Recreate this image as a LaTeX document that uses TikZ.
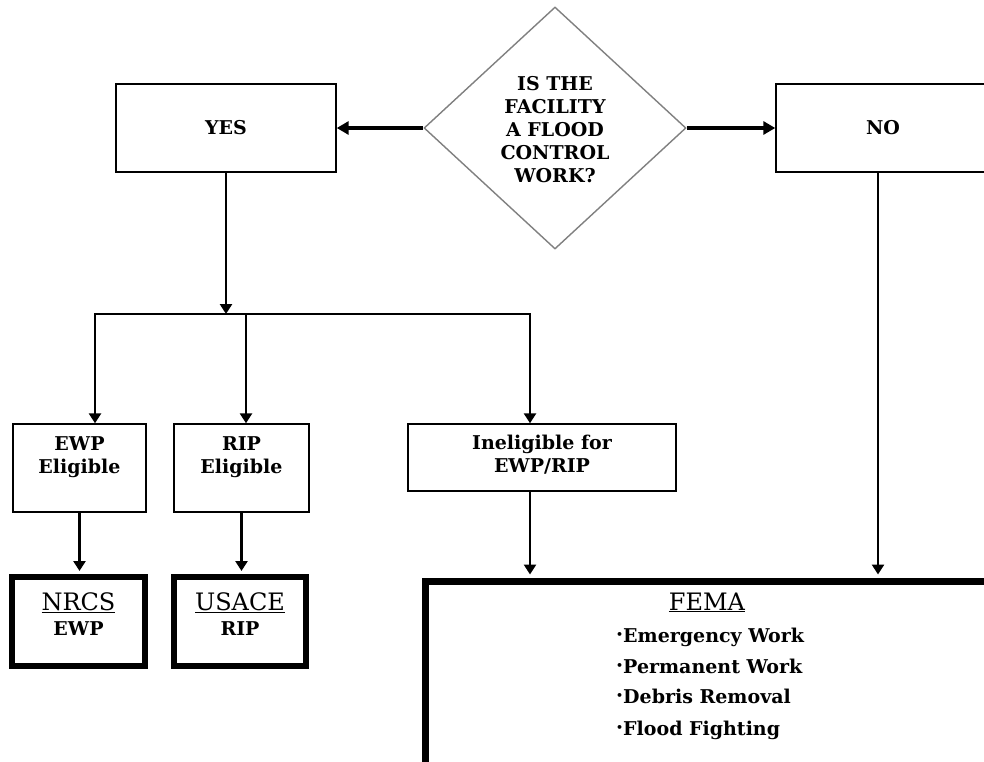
\documentclass[tikz,border=0pt]{standalone}
\usepackage{fontspec}
\setmainfont{DejaVu Serif}
\usetikzlibrary{arrows.meta,shapes.geometric}
\begin{document}
\begin{tikzpicture}[x=1pt,y=-1pt,
  font=\bfseries\fontsize{19}{23}\selectfont,
  box/.style={draw, line width=1.4pt, rectangle, inner sep=0pt},
  heavybox/.style={draw, line width=6pt, rectangle, inner sep=0pt},
  txt/.style={inner sep=0pt, align=center},
  conn/.style={line width=2.8pt, -{Triangle[length=10pt,width=12pt]}},
  bigconn/.style={line width=3.8pt, -{Triangle[length=12pt,width=13pt]}},
  big/.style={font=\mdseries\fontsize{24}{24}\selectfont}]
\useasboundingbox (0,0) rectangle (984,761);
\clip (0,0) rectangle (984,761);
\fill[white] (0,0) rectangle (984,761);

% decision
\node[diamond, draw=black!50, line width=1.4pt, minimum width=262pt, minimum height=242pt, inner sep=0pt] (q) at (555,128) {};
\node[txt, anchor=north] (qt) at (555,76) {IS THE\\FACILITY\\A FLOOD\\CONTROL\\WORK?};

% yes / no
\node[box, minimum width=220pt, minimum height=88pt] (yes) at (226,128) {YES};
\node[box, minimum width=214pt, minimum height=88pt] (no) at (883,128) {NO};

\draw[bigconn] (q.west) -- (yes.east);
\draw[bigconn] (q.east) -- (no.west);

% second row boxes
\node[box, minimum width=133pt, minimum height=88pt] (ewp) at (79.5,468) {};
\node[txt, anchor=north] (ewpt) at (79.5,436) {EWP\\Eligible};
\node[box, minimum width=135pt, minimum height=88pt] (rip) at (241.5,468) {};
\node[txt, anchor=north] (ript) at (241.5,436) {RIP\\Eligible};
\node[box, minimum width=268pt, minimum height=67pt] (inel) at (542,457.5) {};
\node[txt, anchor=north] (inelt) at (542,435) {Ineligible for\\EWP/RIP};

% bus
\coordinate (bus) at (226,314);
\coordinate (bl) at (95,314);
\coordinate (bm) at (246,314);
\coordinate (br) at (530,314);
\draw[conn] (yes.south) -- (bus);
\draw[line width=2.8pt, line cap=rect] (bl) -- (br);
\draw[conn] (bl) -- (bl |- ewp.north);
\draw[conn] (bm) -- (bm |- rip.north);
\draw[conn] (br) -- (br |- inel.north);

% agencies
\node[heavybox, minimum width=133pt, minimum height=89pt] (nrcs) at (78.5,621.5) {};
\node[txt, big, anchor=base] (nrcst) at (78.5,610) {\underline{NRCS}};
\node[txt, anchor=base] (nrcse) at (78.5,635) {EWP};
\node[heavybox, minimum width=132pt, minimum height=89pt] (usace) at (240,621.5) {};
\node[txt, big, anchor=base] (usacet) at (240,610) {\underline{USACE}};
\node[txt, anchor=base] (usacer) at (240,635) {RIP};

\draw[conn, shorten >=3pt] (ewp.south) -- (ewp.south |- nrcs.north);
\draw[conn, shorten >=3pt] (rip.south) -- (rip.south |- usace.north);

% FEMA
\node[heavybox, line width=7pt, minimum width=620pt, minimum height=320pt, anchor=north west] (fema) at (422,578) {};
\node[txt, big, anchor=base] (femat) at (707,610) {\underline{FEMA}};
\node[txt, anchor=base west] (f1) at (616,642) {{\fontsize{11}{11}\selectfont\raisebox{3.5pt}{•}}Emergency Work};
\node[txt, anchor=base west] (f2) at (616,673) {{\fontsize{11}{11}\selectfont\raisebox{3.5pt}{•}}Permanent Work};
\node[txt, anchor=base west] (f3) at (616,703) {{\fontsize{11}{11}\selectfont\raisebox{3.5pt}{•}}Debris Removal};
\node[txt, anchor=base west] (f4) at (616,735) {{\fontsize{11}{11}\selectfont\raisebox{3.5pt}{•}}Flood Fighting};

\draw[conn, shorten >=3.5pt] (inel.south -| br) -- (br |- fema.north);
\draw[conn, shorten >=3.5pt] ([xshift=-5pt]no.south) -- ([xshift=-5pt]no.south |- fema.north);
\end{tikzpicture}
\end{document}
